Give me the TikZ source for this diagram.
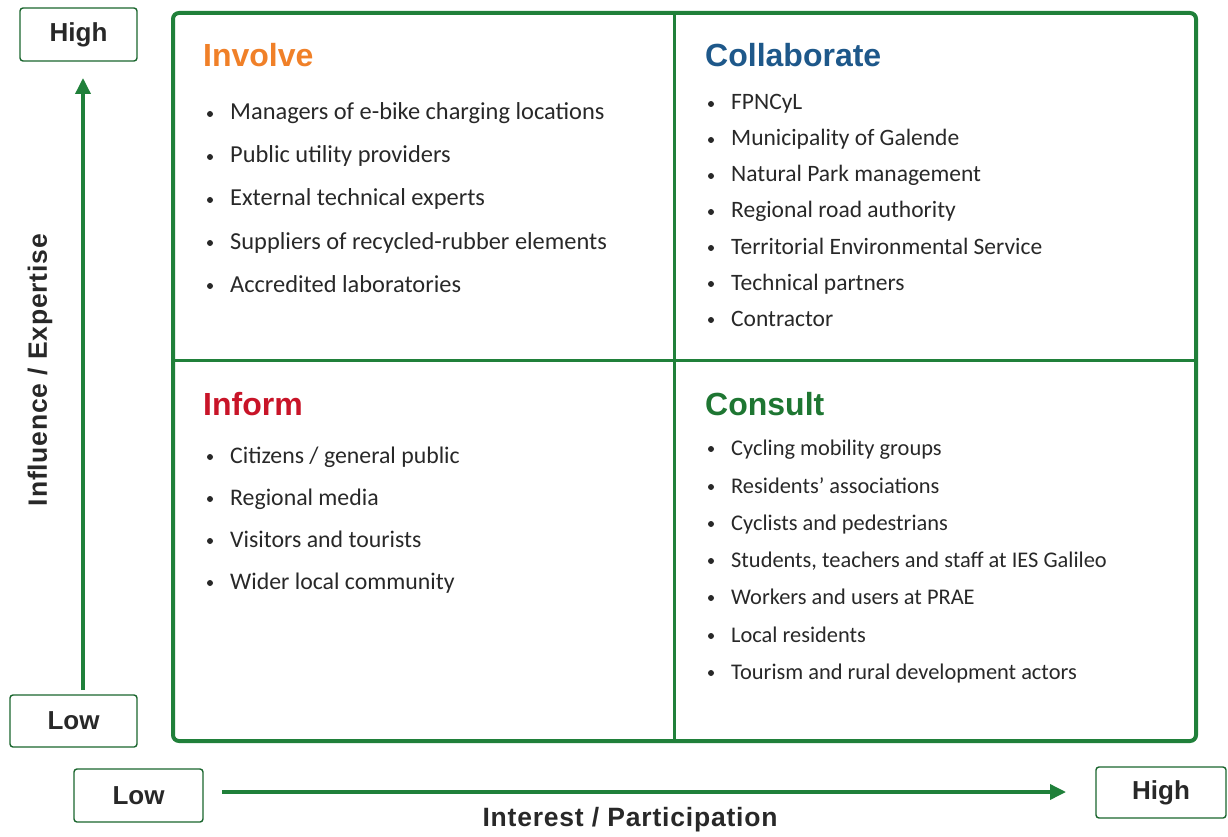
\documentclass[tikz,border=0pt]{standalone}
\usepackage{fontspec}
\setmainfont{Liberation Sans}
\newfontfamily\bodyfont{Carlito}
\newfontfamily\axisfont[LetterSpace=3]{Liberation Sans}
\usetikzlibrary{arrows.meta}
\definecolor{grn}{RGB}{32,128,58}
\definecolor{orng}{RGB}{240,128,40}
\definecolor{blu}{RGB}{30,88,138}
\definecolor{rd}{RGB}{200,20,40}
\definecolor{cgrn}{RGB}{30,118,50}
\definecolor{txt}{RGB}{40,40,40}
\tikzset{
  lvl/.style={draw=grn!80!black, line width=1.4pt, rounded corners=3pt, fill=white, text=txt, font=\fontsize{26}{28}\selectfont\bfseries, inner sep=0pt},
  ttl/.style={anchor=base west, font=\fontsize{32}{36}\selectfont\bfseries, inner sep=0pt},
  itm/.style={anchor=base west, text=txt, inner sep=0pt},
  bul/.style={circle, fill=txt, inner sep=0pt, minimum size=6pt},
  axl/.style={font=\axisfont\fontsize{26.5}{28}\selectfont\bfseries, text=txt, inner sep=0pt},
  arr/.style={draw=grn, line width=3.5pt, -{Triangle[length=16pt,width=15pt]}}
}
\newcommand{\bitem}[4]{% name, x, baseline y, text
  \node[itm] (#1) at (#2+20,#3) {\bodyfont\fontsize{\itsz}{26}\selectfont #4};
  \node[bul] at (#2,#3-6) {};
}
\newcommand{\itsz}{22.5}
\begin{document}
\begin{tikzpicture}[x=1pt,y=-1pt]
\useasboundingbox (0,0) rectangle (1228,837);
% matrix frame
\draw[grn, line width=4pt, rounded corners=6pt] (173,13) rectangle (1196,741);
\draw[grn, line width=3pt] (674,13) -- (674,741);
\draw[grn, line width=3pt] (173,360) -- (1196,360);
% level boxes
\node[lvl, minimum width=117pt, minimum height=53pt] (hiY) at (78.5,34.5) {High};
\node[lvl, minimum width=127pt, minimum height=52pt] (loY) at (73.5,721) {Low};
\node[lvl, minimum width=129pt, minimum height=53pt] (loX) at (138.5,795.5) {Low};
\node[lvl, minimum width=130pt, minimum height=51pt] (hiX) at (1161,792.5) {High};
% axes
\coordinate (vs) at (83,690);
\coordinate (ve) at (83,78);
\coordinate (hs) at (222,792);
\coordinate (he) at (1066,792);
\draw[arr] (vs) -- (ve);
\draw[arr] (hs) -- (he);
\node[axl, rotate=90] (ylab) at (40,370) {Influence / Expertise};
\node[axl] (xlab) at (630,820) {Interest / Participation};
% Involve
\node[ttl, text=orng] (tInv) at (203,67) {Involve};
\renewcommand{\itsz}{24.4}
\bitem{i1}{210}{120}{Managers of e-bike charging locations}
\bitem{i2}{210}{163}{Public utility providers}
\bitem{i3}{210}{206}{External technical experts}
\bitem{i4}{210}{249}{Suppliers of recycled-rubber elements}
\bitem{i5}{210}{292}{Accredited laboratories}
% Collaborate
\node[ttl, text=blu] (tCol) at (705,67) {Collaborate};
\renewcommand{\itsz}{23.5}
\bitem{c1}{711}{110}{FPNCyL}
\bitem{c2}{711}{146}{Municipality of Galende}
\bitem{c3}{711}{182}{Natural Park management}
\bitem{c4}{711}{218}{Regional road authority}
\bitem{c5}{711}{254}{Territorial Environmental Service}
\bitem{c6}{711}{290}{Technical partners}
\bitem{c7}{711}{326}{Contractor}
% Inform
\node[ttl, text=rd] (tInf) at (203,415) {Inform};
\renewcommand{\itsz}{23.8}
\bitem{f1}{210}{463}{Citizens / general public}
\bitem{f2}{210}{505}{Regional media}
\bitem{f3}{210}{547}{Visitors and tourists}
\bitem{f4}{210}{589}{Wider local community}
% Consult
\node[ttl, text=cgrn] (tCon) at (705,415) {Consult};
\renewcommand{\itsz}{22.4}
\bitem{s1}{711}{455}{Cycling mobility groups}
\bitem{s2}{711}{493}{Residents’ associations}
\bitem{s3}{711}{530}{Cyclists and pedestrians}
\bitem{s4}{711}{567}{Students, teachers and staff at IES Galileo}
\bitem{s5}{711}{604}{Workers and users at PRAE}
\bitem{s6}{711}{642}{Local residents}
\bitem{s7}{711}{679}{Tourism and rural development actors}
\end{tikzpicture}
\end{document}
